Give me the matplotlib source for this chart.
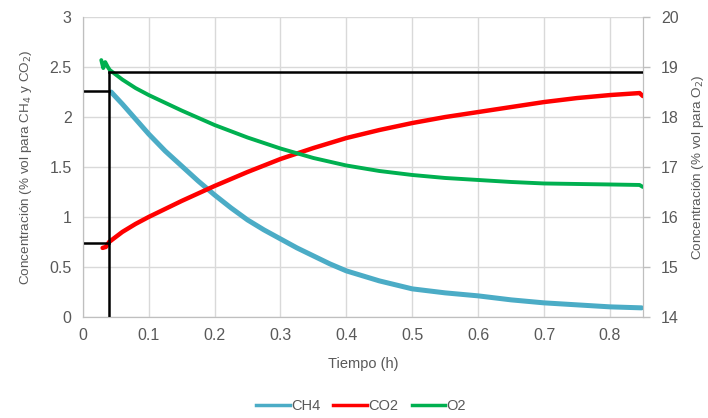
import matplotlib
matplotlib.use("Agg")
import matplotlib.pyplot as plt
from matplotlib.lines import Line2D

plt.rcParams['font.family'] = ['Liberation Sans Narrow', 'Liberation Sans', 'DejaVu Sans']

# Time axis (h) and measured concentrations
ch4_t = [0.043, 0.06, 0.08, 0.10, 0.125, 0.15, 0.175, 0.20, 0.225, 0.25, 0.275,
         0.30, 0.325, 0.35, 0.375, 0.40, 0.425, 0.45, 0.475, 0.50, 0.55, 0.60,
         0.65, 0.70, 0.75, 0.80, 0.848]
ch4 = [2.25, 2.13, 1.98, 1.83, 1.66, 1.51, 1.36, 1.22, 1.09, 0.97, 0.87,
       0.78, 0.69, 0.61, 0.53, 0.46, 0.41, 0.36, 0.32, 0.28, 0.24, 0.21,
       0.17, 0.14, 0.12, 0.10, 0.09]

co2_t = [0.030, 0.035, 0.04, 0.06, 0.08, 0.10, 0.15, 0.20, 0.25, 0.30, 0.35,
         0.40, 0.45, 0.50, 0.55, 0.60, 0.65, 0.70, 0.75, 0.80, 0.845, 0.85]
co2 = [0.69, 0.70, 0.75, 0.85, 0.93, 1.00, 1.16, 1.31, 1.45, 1.58, 1.69,
       1.79, 1.87, 1.94, 2.00, 2.05, 2.10, 2.15, 2.19, 2.22, 2.24, 2.21]

o2_t = [0.028, 0.031, 0.034, 0.038, 0.041, 0.06, 0.08, 0.10, 0.15, 0.20, 0.25,
        0.30, 0.35, 0.40, 0.45, 0.50, 0.55, 0.60, 0.65, 0.70, 0.75, 0.80, 0.845, 0.85]
o2 = [19.14, 18.98, 19.10, 19.00, 18.94, 18.75, 18.58, 18.44, 18.13, 17.84, 17.59,
      17.37, 17.18, 17.03, 16.92, 16.84, 16.78, 16.74, 16.70, 16.67, 16.66, 16.65, 16.64, 16.60]

# Reference markers: start time and initial levels
t_ref = 0.04
ch4_ref = 2.26
co2_ref = 0.74
o2_ref = 18.9

x_ticks = [0, 0.1, 0.2, 0.3, 0.4, 0.5, 0.6, 0.7, 0.8]
x_labels = ["0", "0.1", "0.2", "0.3", "0.4", "0.5", "0.6", "0.7", "0.8"]
y_ticks = [0, 0.5, 1, 1.5, 2, 2.5, 3]
y_labels = ["0", "0.5", "1", "1.5", "2", "2.5", "3"]
y2_ticks = [14, 15, 16, 17, 18, 19, 20]

C_CH4 = "#4BACC6"
C_CO2 = "#FF0000"
C_O2 = "#00B050"
TXT = "#595959"
GRID = "#D9D9D9"

fig = plt.figure(figsize=(7.08, 4.18), dpi=100)
ax = fig.add_axes([0.117, 0.242, 0.791, 0.717])
ax2 = ax.twinx()

ax.set_xlim(0, 0.85)
ax.set_ylim(0, 3)
ax2.set_ylim(14, 20)

ax.set_xticks(x_ticks)
ax.set_xticklabels(x_labels)
ax.set_yticks(y_ticks)
ax.set_yticklabels(y_labels)
ax2.set_yticks(y2_ticks)
ax2.set_yticklabels([str(v) for v in y2_ticks])

ax.grid(True, color=GRID, linewidth=1.0)
ax.set_axisbelow(True)

for a in (ax, ax2):
    for s in a.spines.values():
        s.set_color("#BFBFBF")
    a.spines['top'].set_visible(False)
    a.tick_params(colors=TXT, labelsize=11.5)
ax.tick_params(axis='both', length=0, pad=8)
ax2.tick_params(axis='y', length=5, width=1, color="#BFBFBF", pad=8)

ax.plot(ch4_t, ch4, color=C_CH4, lw=3.6, solid_capstyle='round', zorder=3)
ax.plot(co2_t, co2, color=C_CO2, lw=3.2, solid_capstyle='round', zorder=3)
ax2.plot(o2_t, o2, color=C_O2, lw=2.8, solid_capstyle='round', zorder=3)

# Black reference lines
o2_ref_left = (o2_ref - 14) / 6 * 3
ax.plot([t_ref, t_ref], [0, o2_ref_left], color="black", lw=1.8, zorder=4)
ax2.plot([t_ref, 0.849], [o2_ref, o2_ref], color="black", lw=1.8, zorder=4)
ax.plot([0.002, t_ref], [ch4_ref, ch4_ref], color="black", lw=1.8, zorder=4)
ax.plot([0.0, t_ref], [co2_ref, co2_ref], color="black", lw=1.8, zorder=4)

ax.set_xlabel("Tiempo (h)", color=TXT, fontsize=10.5, labelpad=10)
ax.set_ylabel("Concentración (% vol para CH$_4$ y CO$_2$)", color=TXT, fontsize=9.7, labelpad=11)
ax2.set_ylabel("Concentración (% vol para O$_2$)", color=TXT, fontsize=9.7, rotation=90, labelpad=8)

handles = [Line2D([], [], color=C_CH4, lw=2.5),
           Line2D([], [], color=C_CO2, lw=2.5),
           Line2D([], [], color=C_O2, lw=2.5)]
fig.legend(handles, ["CH4", "CO2", "O2"], loc="center", bbox_to_anchor=(0.51, 0.028),
           ncol=3, frameon=False, fontsize=10.5, labelcolor=TXT, handlelength=2.3,
           handletextpad=0.1, columnspacing=0.9)

fig.savefig("out.png", dpi=100)
